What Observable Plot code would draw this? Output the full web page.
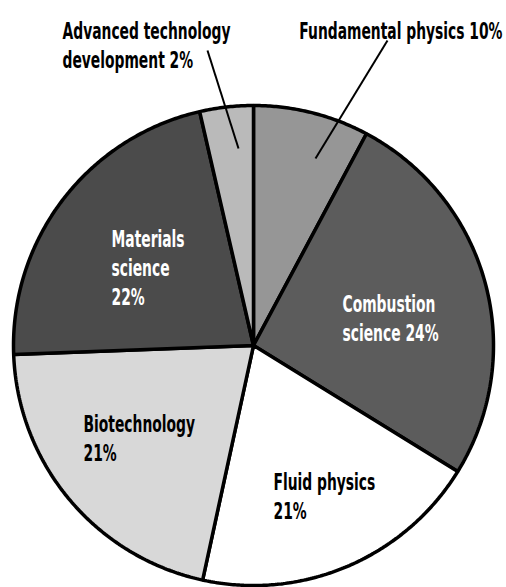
<!DOCTYPE html>
<html><head><meta charset="utf-8">
<script src="https://cdn.jsdelivr.net/npm/d3@7"></script>
<script src="https://cdn.jsdelivr.net/npm/@observablehq/plot@0.6"></script>
<style>body{margin:0;background:#fff} svg text{font-stretch:condensed}</style>
</head><body><div id="chart"></div>
<script>
// Slices clockwise from 12 o'clock
const categories = ["Fundamental physics", "Combustion science", "Fluid physics", "Biotechnology", "Materials science", "Advanced technology development"];
// share of the circle as drawn in the picture (percent)
const shares = [7.8, 26.0, 19.6, 21.0, 22.0, 3.6];
// percent figures printed in the labels
const labelPercents = [10, 24, 21, 21, 22, 2];
const labelTexts = ["Fundamental physics 10%", "Combustion\nscience 24%", "Fluid physics\n21%", "Biotechnology\n21%", "Materials\nscience\n22%", "Advanced technology\ndevelopment 2%"];

// styling / layout (pixels)
const fills = ["#969696", "#5c5c5c", "#ffffff", "#d8d8d8", "#4b4b4b", "#bababa"];
const textFills = ["#000", "#fff", "#000", "#000", "#fff", "#000"];
const W = 506, H = 587, cx = 253, cy = 345, R = 240;
const FS = 23, LH = 1.26, SX = 0.67;
const FONT = "'DejaVu Sans', sans-serif";
const labelLayout = [
  {x: 502, base: 34, anchor: "end"},
  {x: 342, base: 307, anchor: "start"},
  {x: 273, base: 485, anchor: "start"},
  {x: 83, base: 427, anchor: "start"},
  {x: 111, base: 242, anchor: "start"},
  {x: 62, base: 34, anchor: "start"}
];
const leaders = [
  {cat: 0, x1: 387, y1: 40, x2: 315, y2: 158},
  {cat: 5, x1: 207, y1: 50, x2: 238, y2: 148}
];

const px = v => (v - cx) / R, py = v => (cy - v) / R;

const total = d3.sum(shares);
let acc = 0;
const slices = categories.map((c, i) => {
  const a0 = acc / total * 2 * Math.PI; acc += shares[i];
  const a1 = acc / total * 2 * Math.PI;
  const pts = [{x: 0, y: 0}];
  const n = Math.max(2, Math.ceil((a1 - a0) / (Math.PI / 360)));
  for (let k = 0; k <= n; k++) {
    const a = a0 + (a1 - a0) * k / n;
    pts.push({x: Math.sin(a), y: Math.cos(a)});
  }
  return pts;
});

const marks = [];
slices.forEach((pts, i) => marks.push(Plot.line(pts, {
  x: "x", y: "y", fill: fills[i], stroke: "black", strokeWidth: 3.5,
  curve: "linear-closed", strokeLinejoin: "miter"
})));
marks.push(Plot.link(leaders, {
  x1: d => px(d.x1), y1: d => py(d.y1), x2: d => px(d.x2), y2: d => py(d.y2),
  stroke: "black", strokeWidth: 2
}));
labelTexts.forEach((t, i) => {
  const L = labelLayout[i];
  marks.push(Plot.text([t], {
    x: () => px(L.x), y: () => py(L.base - 0.71 * FS), text: d => d,
    textAnchor: L.anchor, lineAnchor: "top", lineHeight: LH,
    fill: textFills[i], fontSize: FS, fontFamily: FONT, fontWeight: "bold"
  }));
});

const chart = Plot.plot({
  width: W, height: H,
  margin: 0,
  x: {domain: [px(0), px(W)], axis: null},
  y: {domain: [py(H), py(0)], axis: null},
  style: {fontFamily: FONT, background: "#fff"},
  marks
});
// condense the label glyphs horizontally around their anchor points
d3.select(chart).selectAll("text").each(function() {
  const el = d3.select(this);
  const tr = el.attr("transform");
  if (tr && tr.includes("translate")) el.attr("transform", tr + ` scale(${SX},1)`);
  else {
    const x = +el.attr("x") || 0, y = +el.attr("y") || 0;
    el.attr("transform", `translate(${x},${y}) scale(${SX},1) translate(${-x},${-y})`);
  }
});
document.getElementById("chart").append(chart);
</script>
</body></html>
